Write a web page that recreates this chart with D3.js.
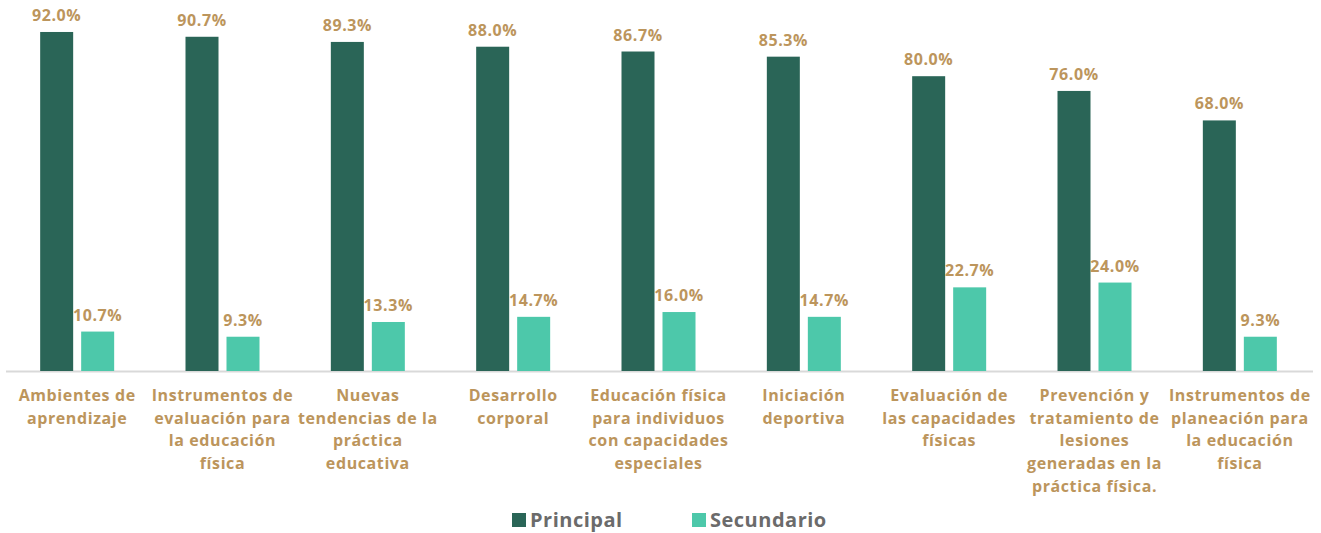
<!DOCTYPE html>
<html>
<head>
<meta charset="utf-8">
<script src="https://cdn.jsdelivr.net/npm/d3@7"></script>
<style>
  body { margin: 0; background: #fff; }
  text { font-family: "Open Sans", sans-serif; font-weight: 700; }
</style>
</head>
<body>
<div id="chart"></div>
<script>
// data
var categories = [
  ["Ambientes de", "aprendizaje"],
  ["Instrumentos de", "evaluación para", "la educación", "física"],
  ["Nuevas", "tendencias de la", "práctica", "educativa"],
  ["Desarrollo", "corporal"],
  ["Educación física", "para individuos", "con capacidades", "especiales"],
  ["Iniciación", "deportiva"],
  ["Evaluación de", "las capacidades", "físicas"],
  ["Prevención y", "tratamiento de", "lesiones", "generadas en la", "práctica física."],
  ["Instrumentos de", "planeación para", "la educación", "física"]
];
var principal = [92.0, 90.7, 89.3, 88.0, 86.7, 85.3, 80.0, 76.0, 68.0];
var secundario = [10.7, 9.3, 13.3, 14.7, 16.0, 14.7, 22.7, 24.0, 9.3];
var seriesNames = ["Principal", "Secundario"];
var seriesColors = ["#2A6557", "#4DC8AA"];

var width = 1321, height = 533;
var baseline = 371;
var labelColor = "#BC955C";

var svg = d3.select("#chart").append("svg")
  .attr("width", width).attr("height", height);

var data = categories.map(function (c, i) {
  return { idx: i, lines: c, values: [principal[i], secundario[i]] };
});

var x0 = d3.scaleBand().domain(d3.range(categories.length)).range([4.5, 1312.5]).padding(0);
var x1 = d3.scaleBand().domain([0, 1]).range([0, 74]).paddingInner(8 / 41).paddingOuter(0);
var y = d3.scaleLinear().domain([0, 100]).range([baseline, baseline - 368.5]);

// axis line
svg.append("line")
  .attr("x1", 6).attr("x2", 1313)
  .attr("y1", baseline + 0.5).attr("y2", baseline + 0.5)
  .attr("stroke", "#d9d9d9").attr("stroke-width", 2);

var groups = svg.selectAll("g.cat").data(data).join("g")
  .attr("class", "cat")
  .attr("transform", function (d) {
    return "translate(" + (x0(d.idx) + x0.bandwidth() / 2 - 37) + ",0)";
  });

groups.selectAll("rect").data(function (d) { return d.values; }).join("rect")
  .attr("x", function (v, j) { return x1(j); })
  .attr("width", x1.bandwidth())
  .attr("y", function (v) { return y(v); })
  .attr("height", function (v) { return baseline - y(v); })
  .attr("fill", function (v, j) { return seriesColors[j]; });

groups.selectAll("text.val").data(function (d) { return d.values; }).join("text")
  .attr("class", "val")
  .attr("x", function (v, j) { return x1(j) + x1.bandwidth() / 2; })
  .attr("y", function (v) { return y(v) - 11; })
  .attr("text-anchor", "middle")
  .attr("fill", labelColor)
  .style("font-size", "16px")
  .style("letter-spacing", "0.6px")
  .text(function (v) { return v.toFixed(1) + "%"; });

// category labels
var catLabels = svg.selectAll("text.cat").data(data).join("text")
  .attr("class", "cat")
  .attr("text-anchor", "middle")
  .attr("fill", labelColor)
  .style("font-size", "16px")
  .style("letter-spacing", "0.6px")
  .attr("transform", function (d) {
    return "translate(" + (x0(d.idx) + x0.bandwidth() / 2) + "," + 401 + ")";
  });
catLabels.selectAll("tspan").data(function (d) { return d.lines; }).join("tspan")
  .attr("x", 0)
  .attr("y", function (l, k) { return k * 22.7; })
  .text(function (l) { return l; });

// legend
var legendX = [512, 692];
var legend = svg.selectAll("g.legend").data(seriesNames).join("g")
  .attr("class", "legend")
  .attr("transform", function (d, i) { return "translate(" + legendX[i] + ",513)"; });
legend.append("rect")
  .attr("width", 14).attr("height", 14)
  .attr("fill", function (d, i) { return seriesColors[i]; });
legend.append("text")
  .attr("x", 18).attr("y", 14)
  .attr("fill", "#6b6b6b")
  .style("font-size", "20px")
  .style("letter-spacing", "0.5px")
  .text(function (d) { return d; });
</script>
</body>
</html>
